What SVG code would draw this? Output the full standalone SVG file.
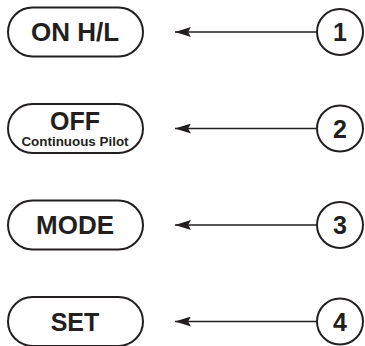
<svg xmlns="http://www.w3.org/2000/svg" width="365" height="346" viewBox="0 0 365 346">
<defs>
<style>
.btn{fill:#fff;stroke:#231f20;stroke-width:2}
.num{fill:#fff;stroke:#231f20;stroke-width:2}
.lbl{font-family:"Liberation Sans",Arial,sans-serif;font-weight:bold;fill:#231f20;text-anchor:middle}
.conn{stroke:#231f20;stroke-width:1.6;fill:none;marker-end:url(#ah)}
</style>
<marker id="ah" viewBox="0 0 16 10" refX="16" refY="5" markerWidth="16" markerHeight="10" markerUnits="userSpaceOnUse" orient="auto">
<path d="M0,0 L16,5 L0,10 L3,5 Z" fill="#231f20"/>
</marker>
</defs>
<rect width="365" height="346" fill="#fff"/>
<g id="connectors">
<line class="conn" x1="317" y1="32" x2="175" y2="32"/>
<line class="conn" x1="317" y1="128.5" x2="175" y2="128.5"/>
<line class="conn" x1="317" y1="225" x2="175" y2="225"/>
<line class="conn" x1="317" y1="321.5" x2="175" y2="321.5"/>
</g>
<g id="btn-on">
<rect class="btn" x="8" y="7.5" width="135" height="49" rx="24.5"/>
<text class="lbl" x="75" y="41.3" font-size="26">ON H/L</text>
</g>
<g id="btn-off">
<rect class="btn" x="8" y="104" width="135" height="49" rx="24.5"/>
<text class="lbl" x="75" y="130" font-size="25">OFF</text>
<text class="lbl" x="75" y="146" font-size="13.4">Continuous Pilot</text>
</g>
<g id="btn-mode">
<rect class="btn" x="8" y="200.5" width="135" height="49" rx="24.5"/>
<text class="lbl" x="75" y="234.3" font-size="26">MODE</text>
</g>
<g id="btn-set">
<rect class="btn" x="8" y="297" width="135" height="49" rx="24.5"/>
<text class="lbl" x="75" y="330.5" font-size="25">SET</text>
</g>
<g id="c1">
<circle class="num" cx="340" cy="32" r="23"/>
<text class="lbl" x="340" y="41" font-size="25">1</text>
</g>
<g id="c2">
<circle class="num" cx="340" cy="128.5" r="23"/>
<text class="lbl" x="340" y="137.5" font-size="25">2</text>
</g>
<g id="c3">
<circle class="num" cx="340" cy="225" r="23"/>
<text class="lbl" x="340" y="234" font-size="25">3</text>
</g>
<g id="c4">
<circle class="num" cx="340" cy="321.5" r="23"/>
<text class="lbl" x="340" y="330.5" font-size="25">4</text>
</g>
</svg>
